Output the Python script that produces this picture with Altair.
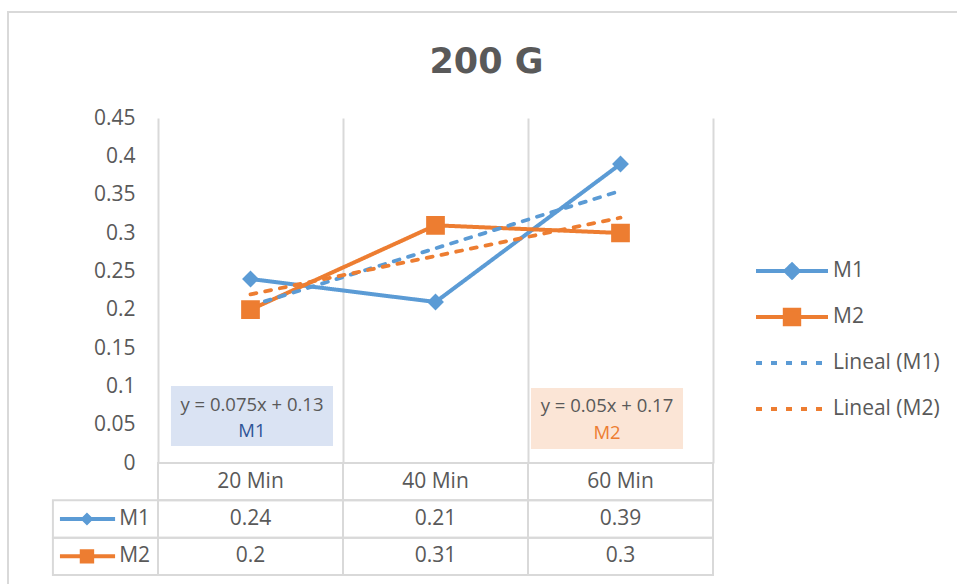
import altair as alt
import pandas as pd

# ---------------------------------------------------------------- data
categories = ["20 Min", "40 Min", "60 Min"]
series = ["M1", "M2"]
m1_values = [0.24, 0.21, 0.39]
m2_values = [0.2, 0.31, 0.3]
trend_labels = ["Lineal (M1)", "Lineal (M2)"]
equations = ["y = 0.075x + 0.13", "y = 0.05x + 0.17"]
y_ticks = [0, 0.05, 0.1, 0.15, 0.2, 0.25, 0.3, 0.35, 0.4, 0.45]

# ---------------------------------------------------------------- style
BLUE, ORANGE = "#5B9BD5", "#ED7D31"
TEXT = "#595959"
GRID = "#D9D9D9"
FONT = "Open Sans"
FS = 21

PLOT_W = 555          # width of the value area / table columns
LINES_H = 345         # height of the value area
TABLE_H = 112         # three table rows
PLOT_H = LINES_H + TABLE_H
KEY_LEFT = -0.068     # left edge of the table key column (category units)
TREND_DASH = [6, 9]

# legend / key glyphs: a line with the series marker in the middle
DIAMOND_KEY = "M-3.6,0H3.6M0,-0.65L0.65,0L0,0.65L-0.65,0Z"
SQUARE_KEY = "M-3.6,0H3.6M-0.72,-0.72H0.72V0.72H-0.72Z"
DASH_KEY = "M-3.6,0H3.6"

pos = list(range(1, len(categories) + 1))
records = []
for s, vals in zip(series, [m1_values, m2_values]):
    for p, c, v in zip(pos, categories, vals):
        records.append({"serie": s, "pos": p, "categoria": c, "valor": v})
df = pd.DataFrame(records)

legend_domain = series + trend_labels
color_scale = alt.Scale(domain=legend_domain, range=[BLUE, ORANGE, BLUE, ORANGE])
dash_scale = alt.Scale(domain=legend_domain, range=[[1, 0], [1, 0], TREND_DASH, TREND_DASH])
shape_scale = alt.Scale(domain=legend_domain,
                        range=[DIAMOND_KEY, SQUARE_KEY, DASH_KEY, DASH_KEY])
x_scale = alt.Scale(domain=[0.5, 3.5], nice=False, zero=False)
y_scale = alt.Scale(domain=[0, 0.45], range=[LINES_H, 0], nice=False, zero=False)
row_scale = alt.Scale(domain=["hdr"] + series, range=[LINES_H, PLOT_H],
                      paddingInner=0, paddingOuter=0)

legend = alt.Legend(
    title=None, orient="none", legendX=622, legendY=141, padding=0,
    rowPadding=14, gridAlign="all", symbolSize=400, symbolStrokeWidth=4,
    labelOffset=29, labelFont=FONT, labelFontSize=FS, labelColor=TEXT,
)
# category separators: grid lines of a top axis span the value area only
x_axis = alt.Axis(orient="top", values=[0.5, 1.5, 2.5, 3.5], grid=True,
                  gridColor=GRID, gridWidth=2, labels=False, ticks=False,
                  domain=False, title=None)
y_axis = alt.Axis(values=y_ticks, format=".2~f", grid=False, ticks=False,
                  domain=False, title=None, labelFont=FONT, labelFontSize=FS,
                  labelColor=TEXT, labelPadding=23)

X = alt.X("pos:Q", scale=x_scale, axis=x_axis)
Y = alt.Y("valor:Q", scale=y_scale, axis=y_axis)
COLOR = alt.Color("serie:N", scale=color_scale, legend=legend)
DASH = alt.StrokeDash("serie:N", scale=dash_scale, legend=legend)
SHAPE = alt.Shape("serie:N", scale=shape_scale, legend=legend)

base = alt.Chart(df)

lines = base.mark_line(strokeWidth=4, strokeCap="round", strokeJoin="round").encode(
    x=X, y=Y, color=COLOR, strokeDash=DASH)

trend = (
    base.transform_regression("pos", "valor", groupby=["serie"], extent=[1, 3])
    .transform_calculate(serie='"Lineal (" + datum.serie + ")"')
    .mark_line(strokeWidth=3.8, strokeCap="round")
    .encode(x=X, y=Y, color=COLOR, strokeDash=DASH)
)

points = base.mark_point(filled=True, opacity=1, size=676).encode(
    x=X, y=Y, color=COLOR, shape=SHAPE)

# trendline equation boxes
labels = pd.DataFrame({
    "serie": series,
    "eq": equations,
    "fondo": ["#DAE3F3", "#FBE5D6"],
    "tinta": ["#2F5597", ORANGE],
})
box_x0 = {"M1": 0.57, "M2": 2.516}
box_x1 = {"M1": 1.446, "M2": 3.338}
box_y0 = {"M1": 0.0222, "M2": 0.0183}
box_y1 = {"M1": 0.1004, "M2": 0.0978}
text_x = {"M1": 1.008, "M2": 2.927}
eq_y = {"M1": 0.0757, "M2": 0.0743}
name_y = {"M1": 0.0417, "M2": 0.0391}
labels["bx0"] = labels.serie.map(box_x0)
labels["bx1"] = labels.serie.map(box_x1)
labels["by0"] = labels.serie.map(box_y0)
labels["by1"] = labels.serie.map(box_y1)
labels["tx"] = labels.serie.map(text_x)
labels["ey"] = labels.serie.map(eq_y)
labels["ny"] = labels.serie.map(name_y)

lab = alt.Chart(labels)
boxes = lab.mark_rect().encode(
    x=alt.X("bx0:Q", scale=x_scale, axis=x_axis), x2="bx1:Q",
    y=alt.Y("by0:Q", scale=y_scale, axis=y_axis), y2="by1:Q",
    fill=alt.Fill("fondo:N", scale=None),
)
eq_text = lab.mark_text(font=FONT, fontSize=18.5, color=TEXT).encode(
    x=alt.X("tx:Q", scale=x_scale, axis=x_axis),
    y=alt.Y("ey:Q", scale=y_scale, axis=y_axis), text="eq:N")
name_text = lab.mark_text(font=FONT, fontSize=18.5).encode(
    x=alt.X("tx:Q", scale=x_scale, axis=x_axis),
    y=alt.Y("ny:Q", scale=y_scale, axis=y_axis), text="serie:N",
    fill=alt.Fill("tinta:N", scale=None))

value_area = alt.layer(lines, trend, points, boxes, eq_text, name_text)

# ---------------------------------------------------------------- data table
header = pd.DataFrame({"fila": "hdr", "pos": pos, "texto": categories})
cells = pd.DataFrame({"fila": df.serie, "pos": df.pos, "texto": df.valor.map(lambda v: f"{v:g}")})
grid_cells = pd.concat([header, cells], ignore_index=True)
key = pd.DataFrame({"fila": series, "serie": series})

ROW = alt.Y("fila:N", scale=row_scale, axis=None)

cell_boxes = (
    alt.Chart(grid_cells)
    .transform_calculate(x0="datum.pos - 0.5", x1="datum.pos + 0.5")
    .mark_rect(fillOpacity=0, stroke=GRID, strokeWidth=2)
    .encode(x=alt.X("x0:Q", scale=x_scale, axis=x_axis), x2="x1:Q", y=ROW)
)
key_boxes = (
    alt.Chart(key)
    .transform_calculate(x0=str(KEY_LEFT), x1="0.5")
    .mark_rect(fillOpacity=0, stroke=GRID, strokeWidth=2)
    .encode(x=alt.X("x0:Q", scale=x_scale, axis=x_axis), x2="x1:Q", y=ROW)
)
cell_text = alt.Chart(grid_cells).mark_text(font=FONT, fontSize=FS, color=TEXT).encode(
    x=alt.X("pos:Q", scale=x_scale, axis=x_axis), y=ROW, text="texto:N")

key_line = (
    alt.Chart(key)
    .transform_calculate(a="-0.03", b="0.268")
    .mark_rule(strokeWidth=4)
    .encode(x=alt.X("a:Q", scale=x_scale, axis=x_axis), x2="b:Q", y=ROW, color=COLOR)
)
key_marker = (
    alt.Chart(key)
    .transform_calculate(m="0.116")
    .mark_point(filled=True, opacity=1, size=400)
    .encode(x=alt.X("m:Q", scale=x_scale, axis=x_axis), y=ROW, color=COLOR, shape=SHAPE)
)
key_text = (
    alt.Chart(key)
    .transform_calculate(t="0.457")
    .mark_text(font=FONT, fontSize=FS, color=TEXT, align="right")
    .encode(x=alt.X("t:Q", scale=x_scale, axis=x_axis), y=ROW, text="serie:N")
)

table = alt.layer(cell_boxes, key_boxes, cell_text, key_line, key_marker, key_text)

# chart-area border
frame = alt.Chart(pd.DataFrame({"k": [0]})).mark_rect(
    fillOpacity=0, stroke=GRID, strokeWidth=2
).encode(x=alt.value(-150), x2=alt.value(820), y=alt.value(-106), y2=alt.value(480))

chart = (
    alt.layer(frame, value_area, table)
    .resolve_scale(y="independent")
    .properties(
        width=PLOT_W, height=PLOT_H,
        title=alt.TitleParams("200 G", font="DejaVu Sans", fontSize=35,
                              fontWeight="bold", color=TEXT, anchor="middle",
                              baseline="alphabetic", offset=0, dx=51, dy=97),
        autosize=alt.AutoSizeParams(type="none"),
        padding={"left": 158, "top": 118, "right": 244, "bottom": 9},
        background="white",
    )
    .configure_view(stroke=None)
)

chart.save("out.html", embed_options={"renderer": "svg", "actions": False})
